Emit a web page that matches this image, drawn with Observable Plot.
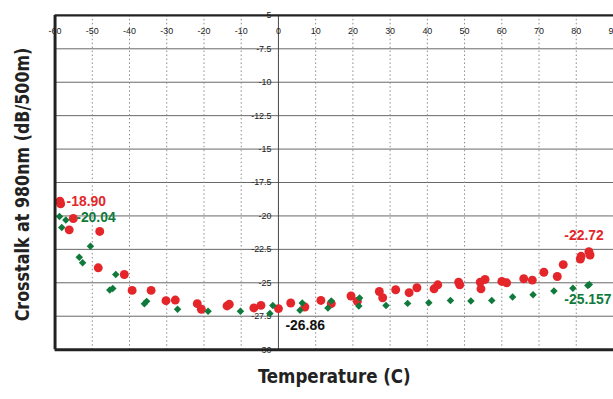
<!DOCTYPE html>
<html><head><meta charset="utf-8">
<script src="https://cdn.jsdelivr.net/npm/d3@7"></script>
<script src="https://cdn.jsdelivr.net/npm/@observablehq/plot@0.6"></script>
<style>
html,body{margin:0;padding:0;background:#fff;overflow:hidden;width:613px;height:399px}
#chart svg{display:block}
</style></head><body><div id="chart"></div>
<script>
// Red circles: temperature (C) and crosstalk (dB/500m)
const redTemp = [-58.7,-58.5,-55.1,-56.2,-48.0,-48.4,-41.4,-39.3,-34.2,-30.2,-27.7,-21.8,-20.7,-13.8,-13.2,-6.6,-4.7,0.0,3.3,7.1,11.4,14.2,19.5,21.2,27.1,28.0,31.5,35.1,37.2,41.8,42.8,48.4,48.7,54.2,55.5,54.4,60.0,61.3,65.9,68.2,71.3,74.9,76.5,81.1,81.3,83.4,83.7];
const redXt   = [-18.9,-19.1,-20.19,-21.04,-21.16,-23.88,-24.38,-25.57,-25.57,-26.34,-26.29,-26.56,-26.98,-26.73,-26.61,-26.88,-26.69,-26.93,-26.51,-26.81,-26.32,-26.56,-25.99,-26.39,-25.65,-26.12,-25.52,-25.74,-25.37,-25.45,-25.15,-24.95,-25.15,-24.95,-24.75,-25.45,-24.9,-25.0,-24.70,-24.80,-24.21,-24.53,-23.64,-23.22,-23.02,-22.67,-22.92];
// Green diamonds
const greenTemp = [-58.8,-57.1,-58.2,-50.5,-53.5,-52.6,-43.7,-45.3,-44.5,-36.0,-35.4,-27.1,-18.9,-10.2,-1.5,-2.3,5.8,6.4,13.3,14.2,21.8,21.6,28.9,34.7,40.4,46.2,51.7,57.3,62.9,68.4,74.0,79.1,83.1,83.5];
const greenXt   = [-20.04,-20.3,-20.86,-22.27,-23.09,-23.51,-24.38,-25.54,-25.42,-26.56,-26.39,-26.98,-27.13,-27.13,-26.69,-27.30,-27.06,-26.51,-26.88,-26.36,-26.14,-26.73,-26.69,-26.54,-26.49,-26.32,-26.36,-26.32,-26.07,-25.89,-25.62,-25.40,-25.20,-25.13];
// Callout labels (anchor in data units)
const calloutText  = ["-18.90","-20.04","-26.86","-22.72","-25.157"];
const calloutTemp  = [-56.9,-54.3,1.9,76.8,76.8];
const calloutXt    = [-18.9,-20.15,-28.2,-21.5,-26.26];
const calloutColor = ["#e4262b","#0f7a3b","#111","#e4262b","#0f7a3b"];
// Axes
const xTicks = [-60,-50,-40,-30,-20,-10,0,10,20,30,40,50,60,70,80,90];
const yTicks = [-5,-7.5,-10,-12.5,-15,-17.5,-20,-22.5,-25,-27.5,-30];
const yTickLabels = ["-5","-7.5","-10","-12.5","-15","-17.5","-20","-22.5","-25","-27.5","-30"];
const xTitle = "Temperature (C)";
const yTitle = "Crosstalk at 980nm (dB/500m)";

const RED = "#e4262b", GREEN = "#0f7a3b";
const red = redTemp.map((t,i)=>({t, v: redXt[i]}));
const green = greenTemp.map((t,i)=>({t, v: greenXt[i]}));
const callouts = calloutText.map((s,i)=>({s, t: calloutTemp[i], v: calloutXt[i], c: calloutColor[i]}));
const yt = yTicks.map((v,i)=>({v, s: yTickLabels[i]}));
const titleFont = "'DejaVu Sans Condensed','DejaVu Sans',sans-serif";

const chart = Plot.plot({
  width: 618, height: 399,
  marginLeft: 55, marginRight: 0, marginTop: 15, marginBottom: 47,
  style: {fontFamily: "'Liberation Sans', Arial, sans-serif", background: "#fff"},
  x: {domain: [-60, 90], axis: null},
  y: {domain: [-30, -5], axis: null},
  marks: [
    Plot.ruleY(yTicks.filter(v => v !== -5 && v !== -30), {y: d => d, stroke: "#666", strokeWidth: 1}),
    Plot.ruleX(xTicks.filter(v => v !== -60 && v !== 0), {x: d => d, stroke: "#8a8a8a", strokeWidth: 1, strokeDasharray: "1.5,2.5"}),
    Plot.ruleX([0], {x: d => d, stroke: "#444", strokeWidth: 1}),
    Plot.text(yt, {x: 0, y: "v", text: "s", dx: -7, textAnchor: "end", fontSize: 9, fill: "#222"}),
    Plot.text(xTicks, {x: d => d, frameAnchor: "top", dy: 12, text: d => String(d), fontSize: 9, fill: "#222"}),
    Plot.dot(red, {x: "t", y: "v", r: 4.5, fill: RED, stroke: "none"}),
    Plot.dot(green, {x: "t", y: "v", r: 3.4, symbol: "diamond2", fill: GREEN, stroke: "none"}),
    Plot.ruleY([-5], {y: d => d, stroke: "#222", strokeWidth: 2.5}),
    Plot.ruleY([-30], {y: d => d, stroke: "#222", strokeWidth: 3}),
    Plot.ruleX([-60], {x: d => d, stroke: "#222", strokeWidth: 3}),
    Plot.text(callouts, {x: "t", y: "v", text: "s", fill: "c", textAnchor: "start", fontSize: 14, fontWeight: "bold"}),
    Plot.text([xTitle], {frameAnchor: "bottom", dy: 34, text: d => d, fontSize: 20, fontWeight: "bold", fontFamily: titleFont, fill: "#222"}),
    Plot.text([yTitle], {frameAnchor: "left", textAnchor: "middle", dx: -33, dy: 2, rotate: -90, text: d => d, fontSize: 20, fontWeight: "bold", fontFamily: titleFont, fill: "#222"})
  ]
});
// Condense the two axis titles to the reference's narrow bold face
chart.querySelectorAll("text").forEach(el => {
  if (el.textContent === xTitle || el.textContent === yTitle) {
    el.style.fontStretch = "condensed";
    el.setAttribute("textLength", el.textContent === xTitle ? 154 : 276);
    el.setAttribute("lengthAdjust", "spacingAndGlyphs");
  }
});
document.getElementById("chart").appendChild(chart);
</script></body></html>
